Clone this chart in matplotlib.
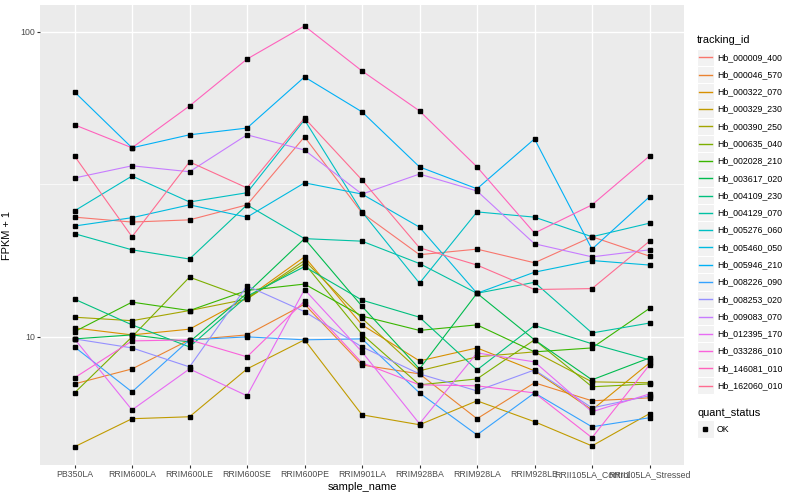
import numpy as np
import matplotlib
matplotlib.use("Agg")
import matplotlib.pyplot as plt
from matplotlib.patches import Rectangle
from matplotlib.lines import Line2D
from matplotlib.ticker import FixedLocator, NullFormatter

plt.rcParams['font.family'] = ['Liberation Sans', 'DejaVu Sans']

# x categories
samples = ["PB350LA", "RRIM600LA", "RRIM600LE", "RRIM600SE", "RRIM600PE",
           "RRIM901LA", "RRIM928BA", "RRIM928LA", "RRIM928LE",
           "RRII105LA_Control", "RRII105LA_Stressed"]

tracking_ids = ["Hb_000009_400", "Hb_000046_570", "Hb_000322_070", "Hb_000329_230",
                "Hb_000390_250", "Hb_000635_040", "Hb_002028_210", "Hb_003617_020",
                "Hb_004109_230", "Hb_004129_070", "Hb_005276_060", "Hb_005460_050",
                "Hb_005946_210", "Hb_008226_090", "Hb_008253_020", "Hb_009083_070",
                "Hb_012395_170", "Hb_033286_010", "Hb_146081_010", "Hb_162060_010"]

# FPKM + 1 per gene (one value per sample)
hb_000009_400 = [24.7, 23.8, 24.2, 27.1, 45.3, 25.5, 18.6, 19.4, 17.5, 21.3, 18.4]
hb_000046_570 = [7.01, 7.85, 9.78, 10.15, 12.8, 8.09, 7.56, 5.39, 7.07, 6.17, 6.31]
hb_000322_070 = [10.7, 10.15, 10.6, 13.4, 18.3, 10.95, 8.34, 9.20, 7.74, 5.76, 8.22]
hb_000329_230 = [4.36, 5.39, 5.47, 7.85, 9.78, 5.55, 5.15, 6.17, 5.27, 4.39, 5.60]
hb_000390_250 = [11.6, 11.3, 12.2, 13.3, 17.8, 11.5, 7.74, 8.60, 8.93, 7.12, 7.07]
hb_000635_040 = [6.55, 10.0, 15.7, 13.4, 17.4, 10.2, 6.96, 7.28, 9.78, 6.86, 7.01]
hb_002028_210 = [10.4, 13.0, 12.2, 14.2, 14.9, 11.7, 10.5, 10.95, 8.93, 9.20, 12.4]
hb_003617_020 = [9.85, 10.15, 9.63, 13.9, 21.0, 12.6, 7.85, 13.9, 9.78, 7.23, 8.53]
hb_004109_230 = [13.3, 10.95, 9.27, 13.6, 17.0, 13.2, 11.6, 7.79, 10.9, 9.49, 8.41]
hb_004129_070 = [21.8, 19.3, 18.0, 27.1, 21.0, 20.6, 17.4, 13.9, 15.1, 10.3, 11.1]
hb_005276_060 = [25.9, 33.7, 27.7, 29.7, 51.5, 25.7, 15.0, 25.7, 24.7, 21.3, 23.6]
hb_005460_050 = [23.1, 24.6, 27.1, 24.7, 32.0, 29.4, 22.9, 13.9, 16.3, 17.8, 17.2]
hb_005946_210 = [63.6, 41.7, 46.0, 48.4, 71.2, 54.7, 36.1, 30.6, 44.6, 19.4, 28.8]
hb_008226_090 = [9.27, 6.60, 9.78, 10.0, 9.78, 9.85, 6.55, 4.77, 6.55, 5.07, 5.43]
hb_008253_020 = [9.85, 9.20, 7.97, 14.7, 12.1, 9.27, 7.56, 6.65, 7.79, 5.85, 6.41]
hb_009083_070 = [33.2, 36.4, 34.8, 46.0, 41.0, 29.4, 34.2, 30.1, 20.2, 18.3, 19.3]
hb_012395_170 = [9.85, 5.76, 7.85, 6.41, 14.3, 8.93, 5.19, 8.86, 8.28, 5.68, 6.50]
hb_033286_010 = [7.34, 9.70, 9.78, 8.60, 13.1, 8.22, 6.96, 6.91, 6.55, 4.67, 8.09]
hb_146081_010 = [49.6, 41.7, 57.2, 81.5, 104.6, 74.5, 55.1, 36.1, 21.9, 27.1, 39.2]
hb_162060_010 = [39.2, 21.3, 37.5, 30.8, 52.2, 32.7, 19.6, 17.2, 14.3, 14.4, 20.6]

series = [hb_000009_400, hb_000046_570, hb_000322_070, hb_000329_230, hb_000390_250,
          hb_000635_040, hb_002028_210, hb_003617_020, hb_004109_230, hb_004129_070,
          hb_005276_060, hb_005460_050, hb_005946_210, hb_008226_090, hb_008253_020,
          hb_009083_070, hb_012395_170, hb_033286_010, hb_146081_010, hb_162060_010]

# ggplot default hue palette for 20 levels
colors = ["#F8766D", "#EA8331", "#D89000", "#C09B00", "#A3A500", "#7CAE00",
          "#39B600", "#00BB4E", "#00BF7D", "#00C1A3", "#00BFC4", "#00BAE0",
          "#00B0F6", "#35A2FF", "#9590FF", "#C77CFF", "#E76BF3", "#FA62DB",
          "#FF62BC", "#FF6C91"]

W, H = 800, 500
fig = plt.figure(figsize=(W / 100, H / 100), dpi=100)
ax = fig.add_axes([40 / W, 35 / H, 644 / W, 460 / H])
ax.set_facecolor('#EBEBEB')
for s in ax.spines.values():
    s.set_visible(False)

x = np.arange(1, len(samples) + 1)
for vals, col in zip(series, colors):
    ax.plot(x, vals, color=col, lw=0.8, zorder=2)
for vals in series:
    ax.plot(x, vals, 's', color='black', ms=2.3, zorder=3)

ax.set_yscale('log')
ax.set_ylim(3.80, 122.6)
ax.set_xlim(0.4, len(samples) + 0.6)
ax.yaxis.set_major_locator(FixedLocator([10, 100]))
ax.yaxis.set_minor_locator(FixedLocator([10 ** 1.5]))
ax.yaxis.set_minor_formatter(NullFormatter())
ax.set_yticklabels(['10', '100'])
ax.set_xticks(x)
ax.set_xticklabels(samples)
ax.set_axisbelow(True)
ax.grid(which='major', color='white', lw=1.0)
ax.grid(which='minor', axis='y', color='white', lw=0.5)
ax.tick_params(which='major', length=2.0, width=0.8, color='#333333',
               labelsize=6.3, labelcolor='#4D4D4D', pad=1.6)
ax.tick_params(which='minor', length=0)
ax.set_xlabel('sample_name', fontsize=7.9, labelpad=2)
ax.set_ylabel('FPKM + 1', fontsize=7.9, labelpad=6)

# legend drawn by hand, ggplot style
def fx(px):
    return px / W

def fy(py):
    return 1 - py / H

fig.text(fx(697), fy(40), 'tracking_id', fontsize=7.9, va='center', ha='left')
row0, step = 57.3, 17.28
for i, (name, col) in enumerate(zip(tracking_ids, colors)):
    yc = row0 + i * step
    fig.add_artist(Rectangle((fx(696.5), fy(yc + step / 2)), 17.28 / W, step / H,
                             transform=fig.transFigure, facecolor='#F2F2F2',
                             edgecolor='white', lw=0.8, zorder=1))
    fig.add_artist(Line2D([fx(698.5), fx(711.5)], [fy(yc), fy(yc)],
                          transform=fig.transFigure, color=col, lw=1.0, zorder=5))
    fig.text(fx(717), fy(yc), name, fontsize=6.3, va='center', ha='left')

fig.text(fx(697), fy(412.5), 'quant_status', fontsize=7.9, va='center', ha='left')
fig.add_artist(Rectangle((fx(696.5), fy(429 + step / 2)), 17.28 / W, step / H,
                         transform=fig.transFigure, facecolor='#F2F2F2',
                         edgecolor='white', lw=0.8, zorder=1))
fig.add_artist(Line2D([fx(705)], [fy(429)], transform=fig.transFigure,
                      marker='s', ms=2.3, color='black', linestyle='none', zorder=5))
fig.text(fx(717), fy(429), 'OK', fontsize=6.3, va='center', ha='left')

fig.savefig('out.png', dpi=100)
